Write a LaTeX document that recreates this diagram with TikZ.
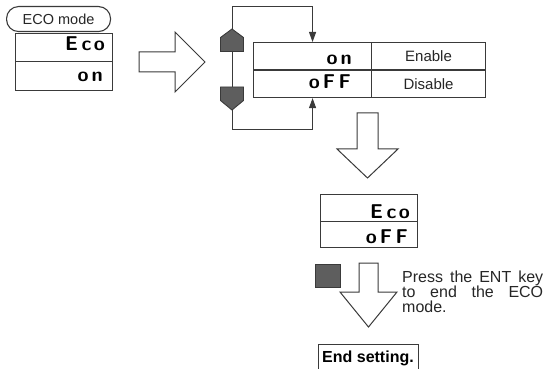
\documentclass[tikz,border=0pt]{standalone}
\usepackage{fontspec}
\setmainfont{Liberation Sans}
\usetikzlibrary{arrows.meta}
\definecolor{ink}{HTML}{3A3A3A}
\definecolor{btn}{HTML}{5E5E5E}
\tikzset{
  box/.style={draw=ink, line width=1.1pt, inner sep=0pt},
  seg/.style={font=\sffamily\bfseries\fontsize{20}{20}\selectfont\addfontfeature{FakeBold=2.5,FakeStretch=1.12}, inner sep=0pt, text=black},
  lbl/.style={font=\fontsize{15}{15}\selectfont, inner sep=0pt, text=black!85},
  hollow/.style={draw=ink, line width=1pt, fill=white, line join=miter},
  loopline/.style={draw=ink, line width=1pt},
  tip/.style={-{Triangle[length=10pt,width=7pt]}},
  button/.style={draw=ink, line width=0.9pt, fill=btn},
}
\begin{document}
\begin{tikzpicture}[x=1pt,y=-1pt]
\useasboundingbox (0,0) rectangle (547,369);

% ---- top-left display
\node[box, anchor=north west, minimum width=97pt, minimum height=28pt] (d1) at (15,33) {};
\node[box, anchor=north west, minimum width=97pt, minimum height=29pt] (d2) at (15,61) {};
\node[box, rounded corners=12pt, anchor=north west, minimum width=104pt, minimum height=25pt, fill=white] (title) at (6,6) {};
\node[lbl, font=\fontsize{14.5}{14.5}\selectfont] (titletext) at (title.center) {ECO mode};
\node[seg, anchor=base east] (t1) at (105,51) {E\kern3.5pt c\kern2.5pt o};
\node[seg, anchor=base east] (t2) at (103,82) {o\kern3pt n};

% ---- big right arrow
\draw[hollow] (139,52) -- (175,52) -- (175,32) -- (205,62) -- (175,92) -- (175,72) -- (139,72) -- cycle;

% ---- table
\node[box, anchor=north west, minimum width=118pt, minimum height=27.5pt] (r1) at (253,42) {};
\node[box, anchor=north west, minimum width=114pt, minimum height=27.5pt] (e1) at (371,42) {};
\node[box, anchor=north west, minimum width=118pt, minimum height=27.5pt] (r2) at (253,69.5) {};
\node[box, anchor=north west, minimum width=114pt, minimum height=27.5pt] (e2) at (371,69.5) {};
\node[seg, anchor=base east] (t3) at (352,65) {o\kern3pt n};
\node[seg, anchor=base east] (t4) at (351,89) {o\kern3pt F\kern3.5pt F};
\node[lbl] (en) at (e1.center) {Enable};
\node[lbl] (dis) at (e2.center) {Disable};

% ---- loop with buttons
\coordinate (lt) at (232,7);
\coordinate (lb) at (232,130);
\draw[loopline] (lt) -- (lb);
\draw[loopline, tip] (lt) -| (r1.north);
\draw[loopline, tip] (lb) -| (r2.south);
\draw[button] (220.5,51.5) -- (220.5,37.5) -- (232,29) -- (243.5,37.5) -- (243.5,51.5) -- cycle;
\draw[button] (220.5,87) -- (243.5,87) -- (243.5,100.5) -- (232,110) -- (220.5,100.5) -- cycle;

% ---- down arrow 1
\draw[hollow] (357,113) -- (378,113) -- (378,149) -- (398,149) -- (367.5,178) -- (337,149) -- (357,149) -- cycle;

% ---- lower display
\node[box, anchor=north west, minimum width=97pt, minimum height=27pt] (d3) at (320,194) {};
\node[box, anchor=north west, minimum width=97pt, minimum height=26pt] (d4) at (320,221) {};
\node[seg, anchor=base east] (t5) at (410,218) {E\kern3.5pt c\kern2.5pt o};
\node[seg, anchor=base east] (t6) at (408,243) {o\kern3pt F\kern3.5pt F};

% ---- ENT key and down arrow 2
\node[draw=ink, line width=0.9pt, fill=btn, anchor=north west, minimum width=25pt, minimum height=23pt, inner sep=0pt] (ent) at (315,264) {};
\draw[hollow] (359,263) -- (378,263) -- (378,292) -- (397,292) -- (368.5,327) -- (340,292) -- (359,292) -- cycle;
\node[lbl, font=\fontsize{16}{15}\selectfont, anchor=north west, text width=141pt, align=justify] (note) at (402,271)
  {Press the ENT key to end the ECO mode.};

% ---- end setting
\node[box, anchor=north west, minimum width=100pt, minimum height=30pt] (endbox) at (318,344) {};
\node[font=\bfseries\fontsize{16}{16}\selectfont, anchor=base west, inner sep=0pt, text=black] (endtext) at (322,362) {End setting.};
\end{tikzpicture}
\end{document}
